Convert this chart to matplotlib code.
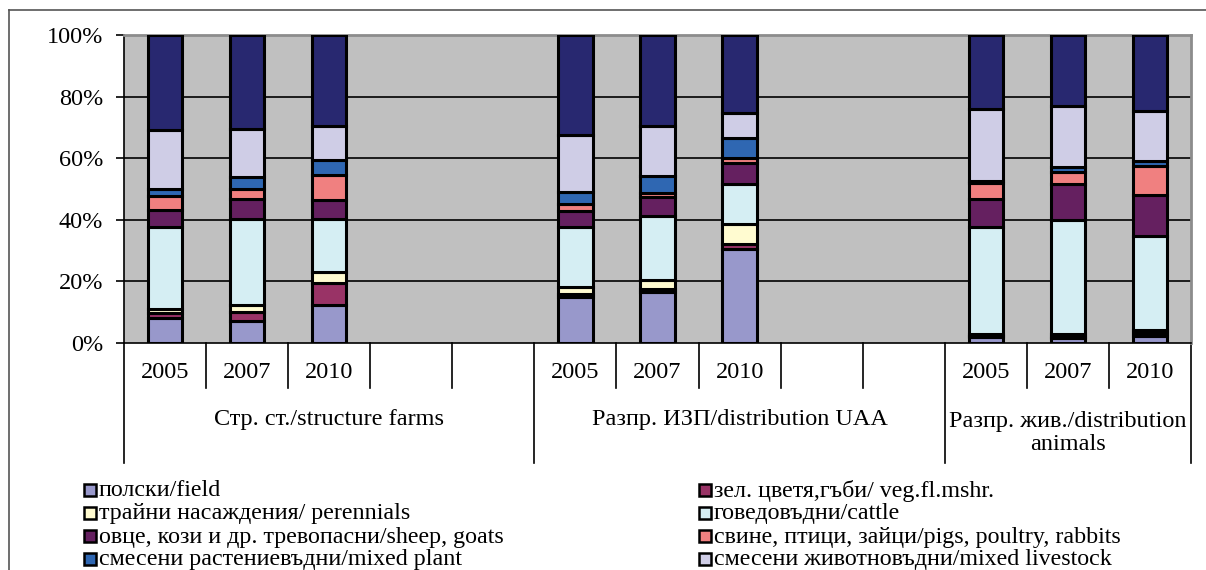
import matplotlib
matplotlib.use('Agg')
import matplotlib.pyplot as plt
from matplotlib.lines import Line2D
from matplotlib.patches import Rectangle
import matplotlib.transforms as mtransforms

plt.rcParams['font.family'] = ['Liberation Serif', 'DejaVu Serif']

years = ['2005', '2007', '2010']
groups = ['Стр. ст./structure farms', 'Разпр. ИЗП/distribution UAA',
          'Разпр. жив./distribution\nanimals']
# slot index of every bar (5 slots per group, the last group has 3)
slots = [0, 1, 2, 5, 6, 7, 10, 11, 12]
n_slots = 13

names = ['полски/field',
         'зел. цветя,гъби/ veg.fl.mshr.',
         'трайни насаждения/ perennials',
         'говедовъдни/cattle',
         'овце, кози и др. тревопасни/sheep, goats',
         'свине, птици, зайци/pigs, poultry, rabbits',
         'смесени растениевъдни/mixed plant',
         'смесени животновъдни/mixed livestock',
         'смесени растениевъдно-животновъдни/mixed crop-livestock']

field = [8.0, 7.3, 12.2, 14.9, 16.5, 30.6, 1.9, 1.6, 2.4]
veg = [1.7, 2.7, 7.2, 1.1, 1.1, 1.6, 0.4, 0.5, 0.8]
perennials = [1.5, 2.2, 3.6, 2.3, 2.9, 6.5, 0.6, 0.8, 0.9]
cattle = [26.6, 27.9, 17.1, 19.3, 20.6, 13.0, 34.7, 36.9, 30.5]
sheep = [5.4, 6.5, 6.2, 5.2, 6.2, 6.7, 9.0, 11.9, 13.3]
pigs = [4.4, 3.4, 8.4, 2.4, 1.3, 1.6, 5.4, 3.8, 9.5]
mixed_plant = [2.4, 3.8, 4.8, 3.8, 5.6, 6.5, 0.5, 1.6, 1.6]
mixed_livestock = [19.2, 15.7, 10.8, 18.6, 16.4, 8.1, 23.5, 19.8, 16.3]
mixed_crop_livestock = [30.8, 30.5, 29.7, 32.4, 29.4, 25.4, 24.0, 23.1, 24.7]

series = [field, veg, perennials, cattle, sheep, pigs,
          mixed_plant, mixed_livestock, mixed_crop_livestock]
colors = ['#9898CB', '#993366', '#FFFBD0', '#D5EEF3', '#652060',
          '#F08080', '#2F67B2', '#CFCDE6', '#282870']

fig = plt.figure(figsize=(12.06, 5.70), dpi=100)
W, H = 1206, 570
ax = fig.add_axes([124 / W, 1 - 343 / H, (1191 - 124) / W, (343 - 35) / H])
ax.set_facecolor('#C0C0C0')

bottom = [0.0] * len(slots)
for vals, col in zip(series, colors):
    ax.bar(slots, vals, width=0.42, bottom=bottom, color=col,
           edgecolor='black', linewidth=2.2, zorder=3)
    bottom = [b + v for b, v in zip(bottom, vals)]

ax.set_xlim(-0.5, n_slots - 0.5)
ax.set_ylim(0, 100)
ax.set_yticks([0, 20, 40, 60, 80, 100])
ax.set_yticklabels([f'{v}%' for v in range(0, 101, 20)], fontsize=17.5)
ax.tick_params(axis='y', direction='out', length=6, width=1.2, pad=9)
ax.set_xticks([])
for y in [20, 40, 60, 80]:
    ax.axhline(y, color='black', linewidth=1.2, zorder=1)

ax.spines['left'].set_color('black')
ax.spines['left'].set_linewidth(1.2)
ax.spines['bottom'].set_color('black')
ax.spines['bottom'].set_linewidth(1.2)
ax.spines['top'].set_color('#8C8C8C')
ax.spines['top'].set_linewidth(2)
ax.spines['right'].set_color('#8C8C8C')
ax.spines['right'].set_linewidth(2)

# category axis: separators, year labels and group labels
trans = mtransforms.blended_transform_factory(ax.transData, ax.transAxes)
ax_h = 343 - 35
long_y = -(463 - 343) / ax_h
short_y = -(388 - 343) / ax_h
long_sep = [-0.5, 4.5, 9.5, 12.5]
for i in range(n_slots + 1):
    x = i - 0.5
    y_end = long_y if x in long_sep else short_y
    ax.plot([x, x], [0, y_end], color='black', linewidth=1.2,
            transform=trans, clip_on=False)

for k, s in enumerate(slots):
    ax.text(s, -(373 - 343) / ax_h, years[k % 3], transform=trans,
            ha='center', va='center', fontsize=17.5)

group_centers = [2, 7, 11]
for gc, name in zip(group_centers, groups):
    if '\n' in name:
        ax.text(gc, -(433 - 343) / ax_h, name, transform=trans, ha='center',
                va='center', fontsize=17.5, linespacing=1.15)
    else:
        ax.text(gc, -(419 - 343) / ax_h, name, transform=trans,
                ha='center', va='center', fontsize=17.5)

# legend (8 visible entries, two columns; the 9th is cut off in the original)
col_x = [84, 699]
row_y = [490, 513, 536, 559]
for i in range(8):
    cx = col_x[i % 2]
    cy = row_y[i // 2]
    fig.add_artist(Rectangle((cx / W, 1 - (cy + 6) / H), 12 / W, 12 / H,
                             facecolor=colors[i], edgecolor='black',
                             linewidth=1.8, transform=fig.transFigure))
    fig.text((cx + 15) / W, 1 - (cy + 1) / H, names[i], ha='left',
             va='center', fontsize=17.3)

# outer chart frame
fig.add_artist(Line2D([9 / W, 1], [1 - 10 / H, 1 - 10 / H], color='#555555',
                      linewidth=1.2, transform=fig.transFigure))
fig.add_artist(Line2D([9 / W, 9 / W], [0, 1 - 10 / H], color='#555555',
                      linewidth=1.2, transform=fig.transFigure))

fig.savefig('out.png', dpi=100)
